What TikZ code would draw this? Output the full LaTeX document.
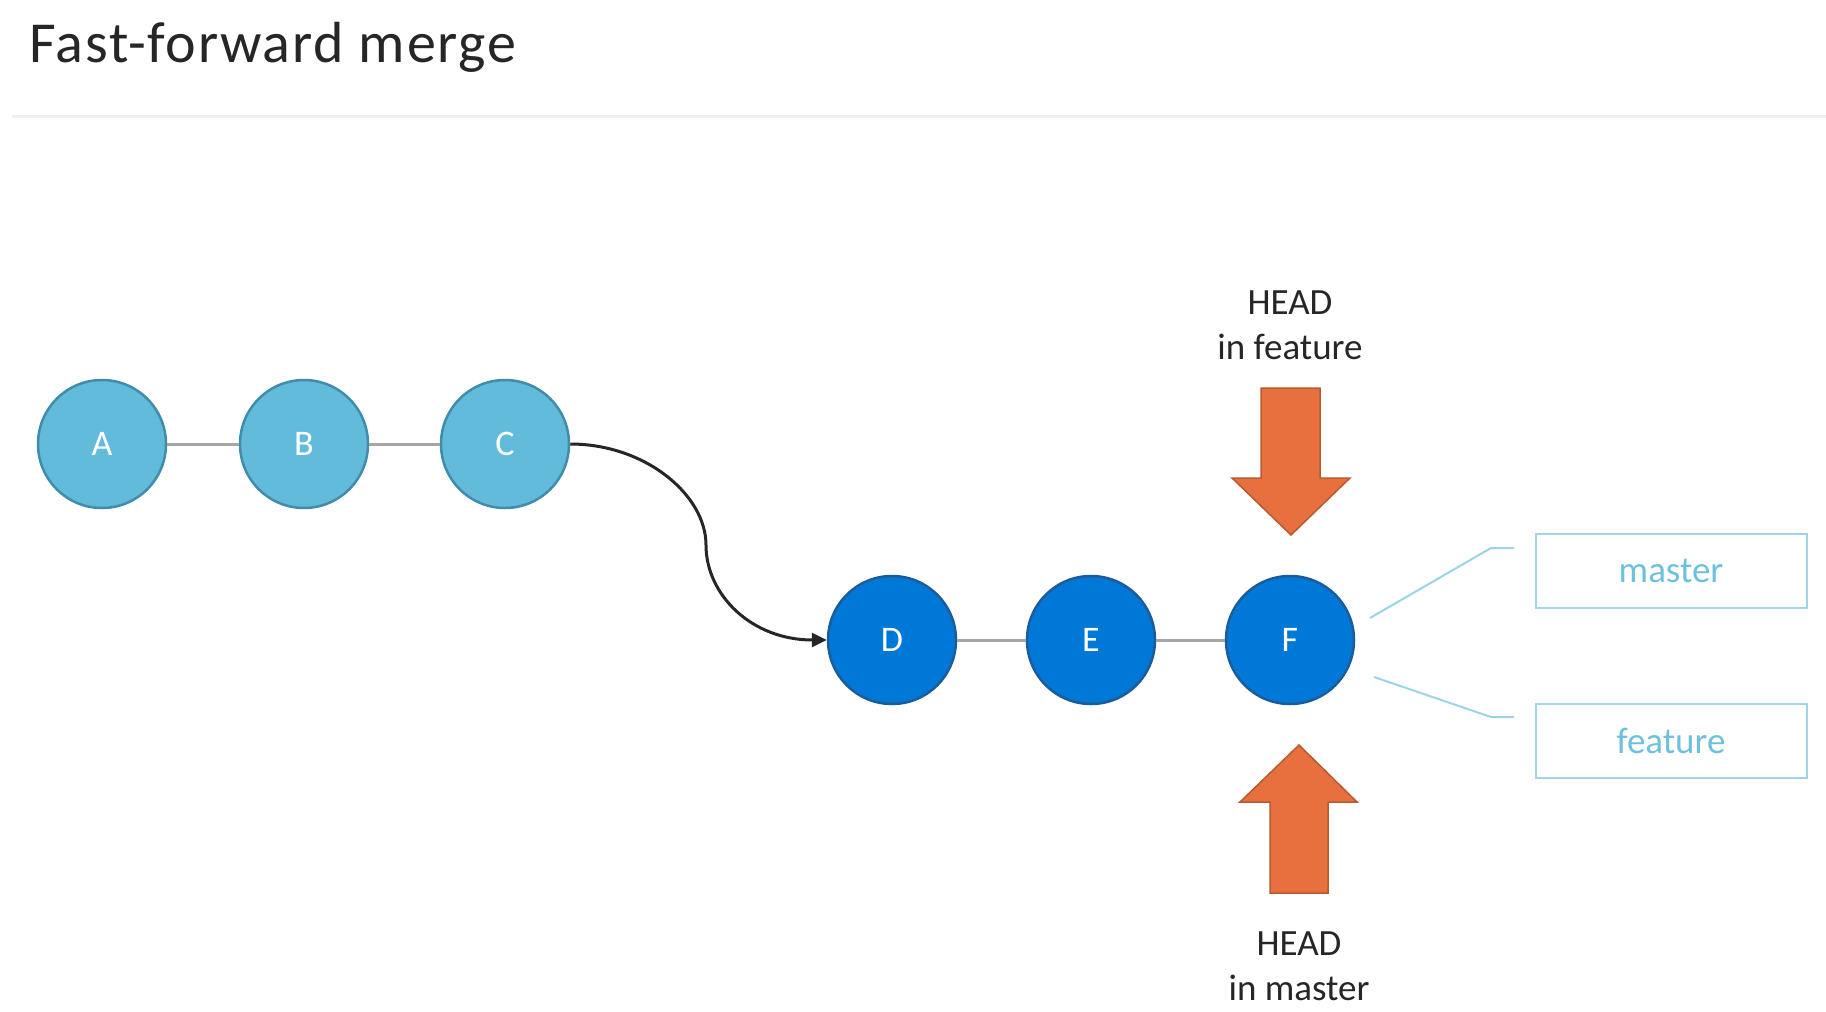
\documentclass[tikz,border=0pt]{standalone}
\usepackage{fontspec}
\setmainfont{Carlito}
\newfontfamily\titlefont[LetterSpace=3]{Carlito}
\usepackage{tikz}
\usetikzlibrary{arrows.meta}

\definecolor{oldfill}{HTML}{63BBDC}
\definecolor{oldline}{HTML}{3F8DAA}
\definecolor{newfill}{HTML}{0078D7}
\definecolor{newline}{HTML}{1B5C9E}
\definecolor{headfill}{HTML}{E8703F}
\definecolor{headline}{HTML}{B75A30}
\definecolor{branchtext}{HTML}{6EC1DD}
\definecolor{branchline}{HTML}{A0D5E8}
\definecolor{inktext}{HTML}{262626}

\tikzset{
    commit/.style={circle, minimum size=128pt, inner sep=0pt, line width=2.5pt,
        text=white, font=\fontsize{36}{43}\selectfont},
    oldcommit/.style={commit, fill=oldfill, draw=oldline},
    newcommit/.style={commit, fill=newfill, draw=newline},
    link/.style={draw=gray!70, line width=3pt},
    merge/.style={draw=inktext, line width=3pt, -{Triangle[length=15pt, width=14pt]}},
    headarrow/.style={fill=headfill, draw=headline, line width=1.5pt},
    headtext/.style={align=center, inner sep=0pt, text=inktext,
        font=\fontsize{37}{45}\selectfont},
    branch/.style={draw=branchline, line width=2pt, minimum width=271pt,
        minimum height=74pt, text=branchtext, font=\fontsize{37}{45}\selectfont},
    pointer/.style={draw=branchline!90!branchtext, line width=2pt}
}

\begin{document}
\begin{tikzpicture}[x=1pt, y=-1pt]
        \useasboundingbox (0,0) rectangle (1826,1012);
        \node[anchor=base west, inner sep=0pt, text=inktext,
            font=\titlefont\fontsize{58}{66}\selectfont] (title) at (29,62) {Fast-forward merge};
        \draw[draw=black!6, line width=3pt] (12,116) -- (1826,116);
        %
        \node[oldcommit] (A) at ( 102,444) {A};
        \node[oldcommit] (B) at ( 304,444) {B};
        \node[oldcommit] (C) at ( 505,444) {C};
        \node[newcommit] (D) at ( 892,640) {D};
        \node[newcommit] (E) at (1091,640) {E};
        \node[newcommit] (F) at (1290,640) {F};
        \draw[link] (A) -- (B);
        \draw[link] (B) -- (C);
        \draw[link] (D) -- (E);
        \draw[link] (E) -- (F);
        \coordinate (M) at (706,545);
        \draw[merge] (C.east) .. controls +(75,0) and +(0,-50) .. (M)
                              .. controls +(0,50) and +(-75,0) .. (D.west);
        %
        \node[headtext] (headfeature) at (1290,325) {HEAD\\in feature};
        \draw[headarrow] (1261,388) -- (1320,388) -- (1320,478) -- (1350,478)
            -- (1291,535) -- (1232,478) -- (1261,478) -- cycle;
        \draw[headarrow] (1270,893) -- (1328,893) -- (1328,802) -- (1357,802)
            -- (1299,745) -- (1240,802) -- (1270,802) -- cycle;
        \node[headtext] (headmaster) at (1299,966) {HEAD\\in master};
        %
        \node[branch] (master)  at (1671,571) {master};
        \node[branch] (feature) at (1671,741) {feature};
        \coordinate (P) at (1370,618);
        \coordinate (Q) at (1491,548);
        \coordinate (R) at (1514,548);
        \coordinate (S) at (1374,677);
        \coordinate (T) at (1491,717);
        \coordinate (U) at (1514,717);
        \draw[pointer] (P) -- (Q) -- (R);
        \draw[pointer] (S) -- (T) -- (U);
        %
    \end{tikzpicture}
\end{document}
